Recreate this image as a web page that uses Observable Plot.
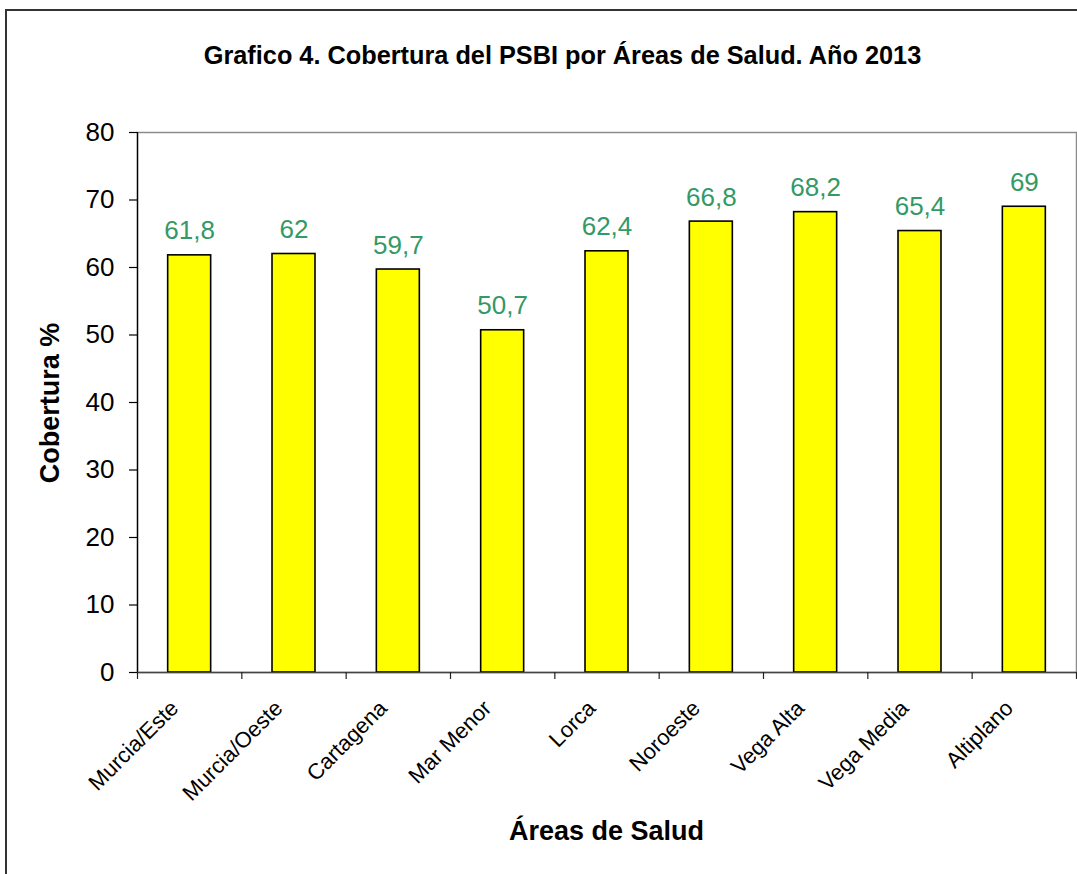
<!DOCTYPE html>
<html>
<head>
<meta charset="utf-8">
<script src="https://cdn.jsdelivr.net/npm/d3@7"></script>
<script src="https://cdn.jsdelivr.net/npm/@observablehq/plot@0.6"></script>
<style>
  html, body { margin: 0; padding: 0; background: #fff; overflow: hidden; }
  body { font-family: "Liberation Sans", Arial, sans-serif; }
  #wrap { position: relative; width: 1077px; height: 874px; }
  #border { position: absolute; left: 5px; top: 9px; width: 1200px; height: 1000px;
            border-left: 2px solid #333; border-top: 2px solid #333; pointer-events: none; }
  #title { position: absolute; left: 0; top: 0; width: 1125px; height: 100px; text-align: center;
           font-weight: bold; font-size: 25.3px; line-height: 1; color: #000; }
  #title span { position: absolute; left: 0; right: 0; top: 43px; }
  #chart { position: absolute; left: 0; top: 100px; }
  #xtitle { position: absolute; left: 137px; width: 939px; top: 818px; text-align: center;
            font-weight: bold; font-size: 27px; line-height: 1; }
  #ytitle { position: absolute; left: 50px; top: 403px; transform: translate(-50%, -50%) rotate(-90deg);
            font-weight: bold; font-size: 27px; line-height: 1; white-space: nowrap; }
</style>
</head>
<body>
<div id="wrap">
  <div id="border"></div>
  <div id="title"><span>Grafico 4. Cobertura del PSBI por Áreas de Salud. Año 2013</span></div>
  <div id="chart"></div>
  <div id="ytitle">Cobertura %</div>
  <div id="xtitle">Áreas de Salud</div>
</div>
<script>
const areas = ["Murcia/Este", "Murcia/Oeste", "Cartagena", "Mar Menor", "Lorca", "Noroeste", "Vega Alta", "Vega Media", "Altiplano"];
const cobertura = [61.8, 62, 59.7, 50.7, 62.4, 66.8, 68.2, 65.4, 69];
const yTicks = [0, 10, 20, 30, 40, 50, 60, 70, 80];

const data = areas.map((a, i) => ({area: a, value: cobertura[i], i}));
const fmt = v => String(v).replace(".", ",");
const font = "Liberation Sans, Arial, sans-serif";

const plot = Plot.plot({
  width: 1077,
  height: 774,
  marginLeft: 137,
  marginRight: 1,
  marginTop: 32,
  marginBottom: 202,
  style: {fontFamily: font, background: "transparent", color: "#000"},
  x: {type: "linear", domain: [0, areas.length], axis: null},
  y: {domain: [0, 80], axis: null},
  marks: [
    Plot.frame({stroke: "#8c8c8c", strokeWidth: 1.5}),
    Plot.rectY(data, {x1: d => d.i + 0.294, x2: d => d.i + 0.706, y: "value", fill: "#ffff00", stroke: "#000", strokeWidth: 1.6}),
    Plot.ruleX([0], {stroke: "#000", strokeWidth: 1.3}),
    Plot.ruleY([0], {stroke: "#444", strokeWidth: 1.5}),
    Plot.axisY({ticks: yTicks, tickSize: 8, tickPadding: 15, fontSize: 26, label: null, stroke: "#000", strokeWidth: 1.2, tickFormat: d => String(d)}),
    Plot.axisX({ticks: d3.range(0, areas.length + 1), tickSize: 7, tickFormat: () => "", label: null, stroke: "#222", strokeWidth: 1.2}),
    Plot.text(data, {x: d => d.i + 0.5, frameAnchor: "bottom", text: "area", rotate: -45, textAnchor: "end", dx: -10, dy: 37, fontSize: 22, fill: "#000"}),
    Plot.text(data, {x: d => d.i + 0.5, y: "value", text: d => fmt(d.value), lineAnchor: "bottom", dy: -16, fontSize: 26, fill: "#339966"})
  ]
});
document.getElementById("chart").appendChild(plot);
</script>
</body>
</html>
